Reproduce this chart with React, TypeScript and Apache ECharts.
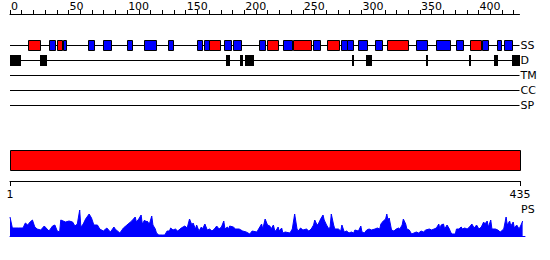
import React, { useEffect, useRef } from 'react';
import * as echarts from 'echarts';

// ---- data ----
const topTickValues = [0, 10, 20, 30, 40, 50, 60, 70, 80, 90, 100, 110, 120, 130, 140, 150, 160, 170, 180, 190, 200, 210, 220, 230, 240, 250, 260, 270, 280, 290, 300, 310, 320, 330, 340, 350, 360, 370, 380, 390, 400, 410, 420, 430];
const topLabelValues = [0, 50, 100, 150, 200, 250, 300, 350, 400];
const trackNames = ['SS', 'D', 'TM', 'CC', 'SP'];
const helixRanges = [[15, 26], [40, 44], [170, 179], [219, 229], [242, 257], [271, 281], [322, 340], [393, 402]];
const strandRanges = [[33, 38], [45, 48], [67, 72], [79, 86], [100, 104], [114, 125], [135, 139], [160, 164], [166, 170], [183, 189], [190, 197], [213, 218], [233, 241], [259, 265], [283, 288], [288, 293], [297, 305], [312, 318], [347, 356], [364, 376], [381, 387], [403, 408], [416, 419], [422, 429]];
const disorderRanges = [[0, 9], [26, 32], [184, 188], [196, 199], [201, 208], [292, 294], [304, 309], [355, 357], [392, 394], [413, 417], [429, 435]];
const domainRanges = [[1, 435]];
const rulerLabels = [1, 435];
const psResidues = [1, 3, 8, 12, 14, 16, 18, 20, 22, 24, 27, 30, 34, 37, 39, 41, 43, 44, 48, 51, 54, 56, 58, 60, 61, 63, 65, 68, 70, 72, 75, 77, 80, 83, 86, 89, 90, 94, 97, 100, 104, 107, 108, 110, 112, 113, 115, 116, 117, 119, 121, 122, 124, 125, 127, 130, 132, 134, 136, 137, 139, 141, 143, 146, 149, 151, 153, 155, 156, 158, 159, 161, 163, 164, 166, 168, 170, 172, 174, 176, 178, 180, 182, 183, 185, 186, 187, 190, 192, 195, 198, 201, 204, 206, 210, 212, 214, 215, 217, 219, 221, 222, 224, 225, 226, 228, 229, 231, 232, 234, 238, 240, 242, 244, 245, 247, 249, 252, 254, 256, 258, 259, 261, 262, 264, 266, 267, 269, 271, 272, 273, 275, 276, 279, 281, 282, 284, 286, 288, 290, 292, 293, 296, 298, 299, 301, 303, 305, 307, 310, 312, 314, 315, 317, 319, 320, 321, 322, 324, 326, 328, 330, 331, 333, 334, 336, 337, 339, 341, 343, 345, 347, 349, 351, 353, 356, 358, 360, 362, 364, 365, 366, 368, 369, 371, 373, 374, 375, 378, 379, 381, 383, 384, 386, 388, 390, 392, 394, 396, 398, 400, 402, 403, 405, 406, 408, 409, 412, 414, 416, 417, 419, 421, 422, 424, 425, 427, 428, 430, 432, 434, 435];
const psValues = [19, 8, 8, 8, 13, 11, 14, 16, 9, 7, 6, 10, 5, 10, 11, 5, 4, 16, 14, 15, 14, 10, 12, 26, 9, 12, 17, 22, 18, 11, 11, 7, 5, 8, 4, 9, 7, 3, 8, 11, 15, 19, 14, 17, 21, 12, 16, 14, 15, 12, 20, 11, 7, 3, 1, 1, 1, 5, 5, 8, 6, 7, 5, 8, 10, 8, 17, 11, 13, 7, 11, 5, 9, 7, 12, 6, 7, 5, 7, 10, 7, 9, 15, 7, 9, 7, 10, 9, 7, 7, 5, 4, 2, 5, 4, 8, 12, 7, 17, 11, 10, 7, 11, 6, 5, 9, 5, 8, 3, 4, 3, 7, 22, 7, 5, 8, 6, 7, 5, 7, 11, 16, 11, 12, 17, 21, 16, 11, 7, 9, 22, 11, 7, 7, 5, 11, 4, 5, 3, 4, 3, 6, 5, 10, 4, 3, 6, 7, 6, 7, 8, 7, 12, 15, 17, 22, 16, 18, 6, 5, 7, 8, 7, 11, 17, 12, 7, 6, 2, 3, 4, 3, 5, 4, 6, 7, 6, 7, 8, 12, 7, 11, 12, 7, 11, 7, 4, 2, 2, 7, 7, 9, 7, 8, 7, 9, 12, 8, 11, 7, 9, 14, 12, 15, 9, 16, 7, 7, 6, 4, 5, 7, 19, 11, 15, 10, 14, 8, 11, 7, 12, 15];

const FONT = '"DejaVu Sans", sans-serif';

function boxSeries(name: string, ranges: number[][], track: number, color: string, h: number, stroke: boolean) {
  return {
    type: 'custom',
    name,
    xAxisIndex: 0,
    yAxisIndex: 0,
    encode: { x: [0, 1], y: 2 },
    data: ranges.map(([s, e]) => [s, e, track]),
    renderItem: (params: any, api: any) => {
      const a = api.coord([api.value(0), api.value(2)]);
      const b = api.coord([api.value(1), api.value(2)]);
      const x0 = Math.round(a[0]) + (stroke ? 0.5 : 0);
      const x1 = Math.round(b[0]) + (stroke ? 0.5 : 0);
      const y0 = Math.round(a[1] - h / 2) + (stroke ? 0.5 : 0);
      return {
        type: 'rect',
        shape: { x: x0, y: y0, width: Math.max(x1 - x0, 2), height: h },
        style: stroke ? { fill: color, stroke: '#000', lineWidth: 1 } : { fill: color },
      };
    },
  };
}

export default function App() {
  const ref = useRef<HTMLDivElement>(null);
  useEffect(() => {
    if (!ref.current) return;
    const chart = echarts.init(ref.current, null, { renderer: 'svg' });
    chart.setOption({
      animation: false,
      backgroundColor: '#fff',
      grid: [
        { left: 10, top: 45, width: 509.5, height: 60, outerBoundsMode: 'none' },
        { left: 10, top: 150, width: 510, height: 20, outerBoundsMode: 'none' },
        { left: 10, top: 210, width: 515, height: 26, outerBoundsMode: 'none' },
      ],
      xAxis: [
        {
          gridIndex: 0, type: 'value', min: 0, max: 435, position: 'top', offset: 31,
          axisLine: { show: true, lineStyle: { color: '#000', width: 1 } },
          axisTick: { show: true, length: 4, customValues: topTickValues, lineStyle: { color: '#000' } },
          axisLabel: {
            show: true, customValues: topLabelValues, align: 'left', margin: 2,
            padding: [0, 0, 0, 1], color: '#000', fontFamily: FONT, fontSize: 11,
          },
          splitLine: { show: false },
        },
        {
          gridIndex: 1, type: 'value', min: 1, max: 435, position: 'bottom', offset: 11,
          axisLine: { show: true, lineStyle: { color: '#000', width: 1 } },
          axisTick: { show: true, length: 5, customValues: rulerLabels, lineStyle: { color: '#000' } },
          axisLabel: { show: true, customValues: rulerLabels, margin: 8, color: '#000', fontFamily: FONT, fontSize: 11 },
          splitLine: { show: false },
        },
        {
          gridIndex: 2, type: 'value', min: 1, max: 437,
          axisLine: { show: true, onZero: false, lineStyle: { color: '#0000ff', width: 1 } },
          axisTick: { show: false }, axisLabel: { show: false }, splitLine: { show: false },
        },
      ],
      yAxis: [
        {
          gridIndex: 0, type: 'category', data: trackNames, inverse: true, boundaryGap: false, position: 'right',
          axisLine: { show: false }, axisTick: { show: false },
          axisLabel: { show: true, margin: 1, color: '#000', fontFamily: FONT, fontSize: 11 },
          splitLine: { show: true, lineStyle: { color: '#000', width: 1 } },
        },
        {
          gridIndex: 1, type: 'category', data: ['domain'], show: false,
        },
        {
          gridIndex: 2, type: 'value', min: 0, max: 26, show: false, splitLine: { show: false },
        },
      ],
      graphic: [
        { type: 'text', left: 521, top: 204, style: { text: 'PS', font: '11px "DejaVu Sans", sans-serif', fill: '#000' } },
      ],
      series: [
        boxSeries('helix', helixRanges, 0, '#ff0000', 10, true),
        boxSeries('strand', strandRanges, 0, '#0000ff', 10, true),
        boxSeries('disorder', disorderRanges, 1, '#000000', 11, false),
        {
          type: 'custom',
          name: 'domain',
          xAxisIndex: 1,
          yAxisIndex: 1,
          encode: { x: [0, 1], y: 2 },
          data: domainRanges.map(([s, e]) => [s, e, 0]),
          renderItem: (params: any, api: any) => {
            const a = api.coord([api.value(0), 0]);
            const b = api.coord([api.value(1), 0]);
            const h = api.size([0, 1])[1];
            return {
              type: 'rect',
              shape: { x: Math.round(a[0]) + 0.5, y: Math.round(a[1] - h / 2) + 0.5, width: Math.round(b[0] - a[0]), height: Math.round(h) },
              style: { fill: '#ff0000', stroke: '#000', lineWidth: 1 },
            };
          },
        },
        {
          type: 'line',
          name: 'PS',
          xAxisIndex: 2,
          yAxisIndex: 2,
          data: psResidues.map((r, i) => [r, psValues[i]]),
          showSymbol: false,
          symbol: 'none',
          lineStyle: { color: '#0000ff', width: 1 },
          areaStyle: { color: '#0000ff', opacity: 1 },
          itemStyle: { color: '#0000ff' },
        },
      ],
    });
    return () => chart.dispose();
  }, []);
  return <div ref={ref} style={{ position: 'fixed', left: 0, top: 0, width: 550, height: 260, background: '#fff' }} />;
}
